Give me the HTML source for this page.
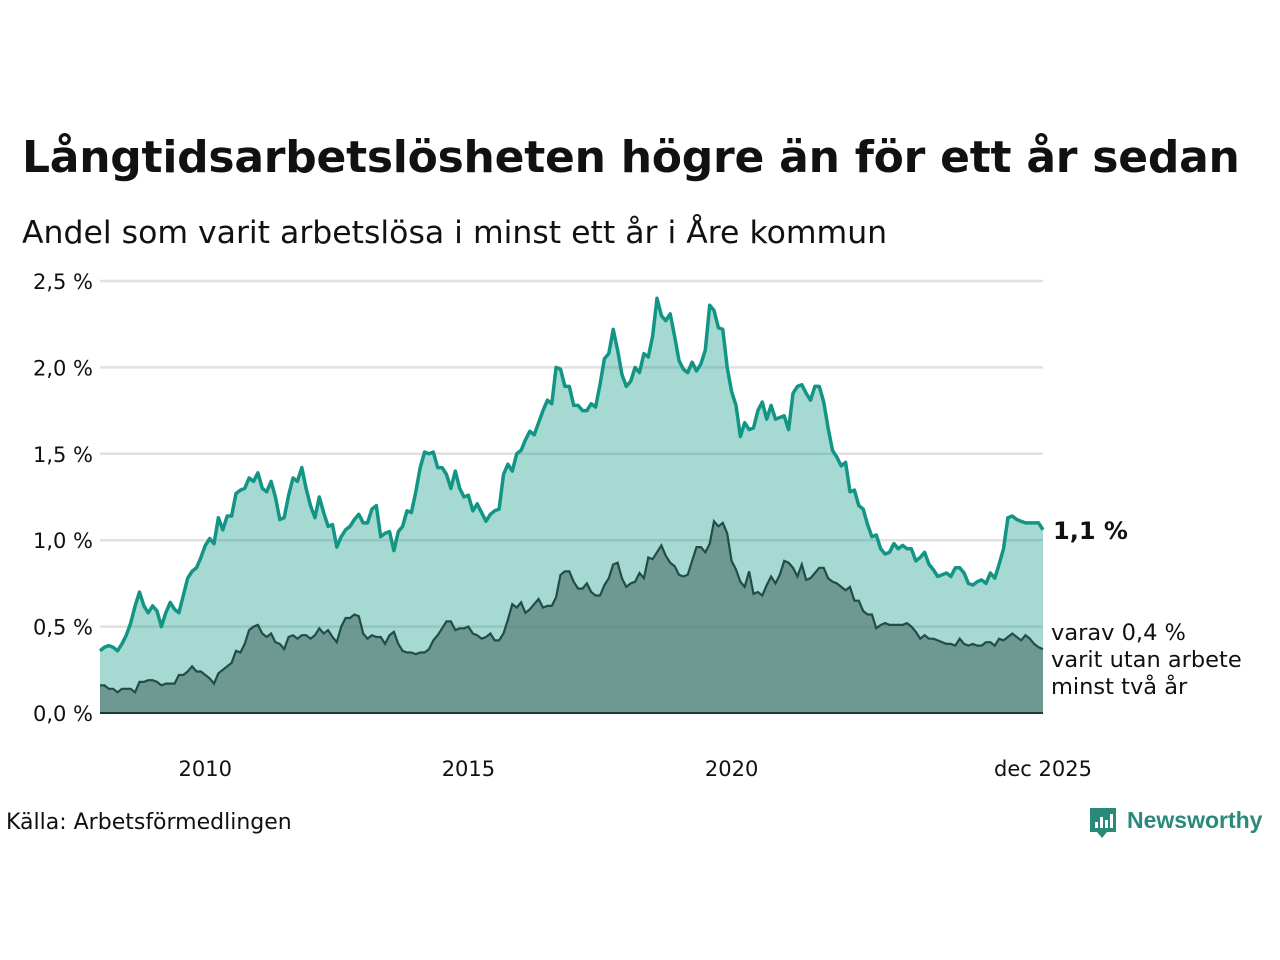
<!DOCTYPE html>
<html><head><meta charset="utf-8">
<style>
body{margin:0;background:#fff;font-family:"DejaVu Sans","Liberation Sans",sans-serif;}
#wrap{position:relative;width:1280px;height:960px;overflow:hidden;}
h1{position:absolute;left:22px;top:132px;margin:0;font-size:44px;font-weight:bold;color:#111;letter-spacing:-0.25px;white-space:nowrap;}
.sub{position:absolute;left:22px;top:215px;font-size:31.5px;color:#111;white-space:nowrap;}
.src{position:absolute;left:6px;top:810px;font-size:22px;color:#111;}
.logo{position:absolute;left:1088px;top:804px;}
</style></head><body>
<div id="wrap">
<h1>Långtidsarbetslösheten högre än för ett år sedan</h1>
<div class="sub">Andel som varit arbetslösa i minst ett år i Åre kommun</div>
<svg id="chart" width="1280" height="960" style="position:absolute;left:0;top:0"></svg>
<div class="src">Källa: Arbetsförmedlingen</div>
<div class="logo">
<svg width="190" height="40">
<path d="M2 4 h26 v24 h-9 l-5 6 l-5 -6 h-7 z" fill="#2a8a7a"/>
<rect x="7" y="18" width="3" height="6" fill="#fff"/><rect x="12" y="13" width="3" height="11" fill="#fff"/><rect x="17" y="16" width="3" height="8" fill="#fff"/><rect x="22" y="10" width="3" height="14" fill="#fff"/>
<text x="39" y="24" font-size="23" font-weight="bold" fill="#2a8a7a" font-family="Liberation Sans, sans-serif">Newsworthy</text>
</svg></div>
</div>
<script>
const startYear = 2008;
const totalSeries = [
0.36,0.38,0.39,0.38,0.36,0.40,0.45,0.52,0.62,0.70,0.62,0.58,
0.62,0.59,0.50,0.58,0.64,0.60,0.58,0.68,0.78,0.82,0.84,0.90,
0.97,1.01,0.98,1.13,1.06,1.14,1.14,1.27,1.29,1.30,1.36,1.34,
1.39,1.30,1.28,1.34,1.25,1.12,1.13,1.26,1.36,1.34,1.42,1.30,
1.20,1.13,1.25,1.16,1.08,1.09,0.96,1.02,1.06,1.08,1.12,1.15,
1.10,1.10,1.18,1.20,1.02,1.04,1.05,0.94,1.05,1.08,1.17,1.16,
1.28,1.42,1.51,1.50,1.51,1.42,1.42,1.38,1.30,1.40,1.30,1.25,
1.26,1.17,1.21,1.16,1.11,1.15,1.17,1.18,1.38,1.44,1.40,1.50,
1.52,1.58,1.63,1.61,1.68,1.75,1.81,1.79,2.00,1.99,1.89,1.89,
1.78,1.78,1.75,1.75,1.79,1.77,1.90,2.05,2.08,2.22,2.10,1.96,
1.89,1.92,2.00,1.97,2.08,2.06,2.18,2.40,2.30,2.27,2.31,2.18,
2.04,1.99,1.97,2.03,1.98,2.02,2.10,2.36,2.33,2.23,2.22,2.00,
1.86,1.78,1.60,1.68,1.64,1.65,1.75,1.80,1.70,1.78,1.70,1.71,
1.72,1.64,1.85,1.89,1.90,1.85,1.81,1.89,1.89,1.80,1.65,1.52,
1.48,1.43,1.45,1.28,1.29,1.20,1.18,1.09,1.02,1.03,0.95,0.92,
0.93,0.98,0.95,0.97,0.95,0.95,0.88,0.90,0.93,0.86,0.83,0.79,
0.80,0.81,0.79,0.84,0.84,0.81,0.75,0.74,0.76,0.77,0.75,0.81,
0.78,0.86,0.95,1.13,1.14,1.12,1.11,1.10,1.10,1.10,1.10,1.06];
const twoYearSeries = [
0.16,0.16,0.14,0.14,0.12,0.14,0.14,0.14,0.12,0.18,0.18,0.19,
0.19,0.18,0.16,0.17,0.17,0.17,0.22,0.22,0.24,0.27,0.24,0.24,
0.22,0.20,0.17,0.23,0.25,0.27,0.29,0.36,0.35,0.40,0.48,0.50,
0.51,0.46,0.44,0.46,0.41,0.40,0.37,0.44,0.45,0.43,0.45,0.45,
0.43,0.45,0.49,0.46,0.48,0.44,0.41,0.50,0.55,0.55,0.57,0.56,
0.46,0.43,0.45,0.44,0.44,0.40,0.45,0.47,0.40,0.36,0.35,0.35,
0.34,0.35,0.35,0.37,0.42,0.45,0.49,0.53,0.53,0.48,0.49,0.49,
0.50,0.46,0.45,0.43,0.44,0.46,0.42,0.42,0.46,0.54,0.63,0.61,
0.64,0.58,0.60,0.63,0.66,0.61,0.62,0.62,0.67,0.80,0.82,0.82,
0.76,0.72,0.72,0.75,0.70,0.68,0.68,0.74,0.78,0.86,0.87,0.78,
0.73,0.75,0.76,0.81,0.78,0.90,0.89,0.93,0.97,0.91,0.87,0.85,
0.80,0.79,0.80,0.88,0.96,0.96,0.93,0.98,1.11,1.08,1.10,1.04,
0.88,0.83,0.76,0.73,0.82,0.69,0.70,0.68,0.74,0.79,0.75,0.80,
0.88,0.87,0.84,0.79,0.86,0.77,0.78,0.81,0.84,0.84,0.78,0.76,
0.75,0.73,0.71,0.73,0.65,0.65,0.59,0.57,0.57,0.49,0.51,0.52,
0.51,0.51,0.51,0.51,0.52,0.50,0.47,0.43,0.45,0.43,0.43,0.42,
0.41,0.40,0.40,0.39,0.43,0.40,0.39,0.40,0.39,0.39,0.41,0.41,
0.39,0.43,0.42,0.44,0.46,0.44,0.42,0.45,0.43,0.40,0.38,0.37];
const yTicks = [0,0.5,1.0,1.5,2.0,2.5];
const yTickLabels = ["0,0 %","0,5 %","1,0 %","1,5 %","2,0 %","2,5 %"];
const xTicks = [2010,2015,2020,2025.917];
const xTickLabels = ["2010","2015","2020","dec 2025"];

const NS="http://www.w3.org/2000/svg";
const svg=document.getElementById('chart');
const FF='DejaVu Sans, Liberation Sans, sans-serif';
const X0=100,X1=1043,Y0=713,Y1=281;
const tStart=startYear, tEnd=startYear+(totalSeries.length-1)/12;
const xs=t=>X0+(t-tStart)/(tEnd-tStart)*(X1-X0);
const ys=v=>Y0-v/2.5*(Y0-Y1);
const xi=i=>xs(startYear+i/12);
function el(tag,attrs){const e=document.createElementNS(NS,tag);for(const k in attrs)e.setAttribute(k,attrs[k]);svg.appendChild(e);return e;}

yTicks.forEach((v,i)=>{
  if(v>0){const g=el('line',{x1:X0,x2:X1,y1:ys(v),y2:ys(v),stroke:'#e2e0e5','stroke-width':2.5});
  
  }
  const t=el('text',{x:93,y:ys(v)+8,'text-anchor':'end','font-size':21,fill:'#111','font-family':FF});
  t.textContent=yTickLabels[i];
  
  
});
xTicks.forEach((v,i)=>{
  const t=el('text',{x:xs(v),y:776,'text-anchor':'middle','font-size':21,fill:'#111','font-family':FF});
  t.textContent=xTickLabels[i];
  
  
});
function areaPath(arr){let d='M'+xi(0)+','+Y0;arr.forEach((v,i)=>d+='L'+xi(i).toFixed(1)+','+ys(v).toFixed(1));return d+'L'+xi(arr.length-1)+','+Y0+'Z';}
function linePath(arr){return arr.map((v,i)=>(i?'L':'M')+xi(i).toFixed(1)+','+ys(v).toFixed(1)).join('');}
const a1=el('path',{d:areaPath(totalSeries),fill:'#139b88','fill-opacity':0.38});


const a2=el('path',{d:areaPath(twoYearSeries),fill:'#4a6e69','fill-opacity':0.6});


const l2=el('path',{d:linePath(twoYearSeries),fill:'none',stroke:'#224d46','stroke-width':2.2});


const l1=el('path',{d:linePath(totalSeries),fill:'none',stroke:'#139585','stroke-width':3.5,'stroke-linejoin':'round'});


const base=el('line',{x1:X0,x2:X1,y1:Y0,y2:Y0,stroke:'#1f3a36','stroke-width':2});



const lastT=totalSeries[totalSeries.length-1];
const lab1=el('text',{x:1053,y:ys(lastT)+9,'font-size':24,'font-weight':'bold',fill:'#111','font-family':FF});
lab1.textContent=lastT.toFixed(1).replace('.',',')+' %';


const lastB=twoYearSeries[twoYearSeries.length-1];
["varav "+lastB.toFixed(1).replace('.',',')+" %","varit utan arbete","minst två år"].forEach((s,i)=>{
  const t=el('text',{x:1051,y:640+i*27,'font-size':22.5,fill:'#111','font-family':FF});
  t.textContent=s;
  
  
});
</script>
</body></html>
